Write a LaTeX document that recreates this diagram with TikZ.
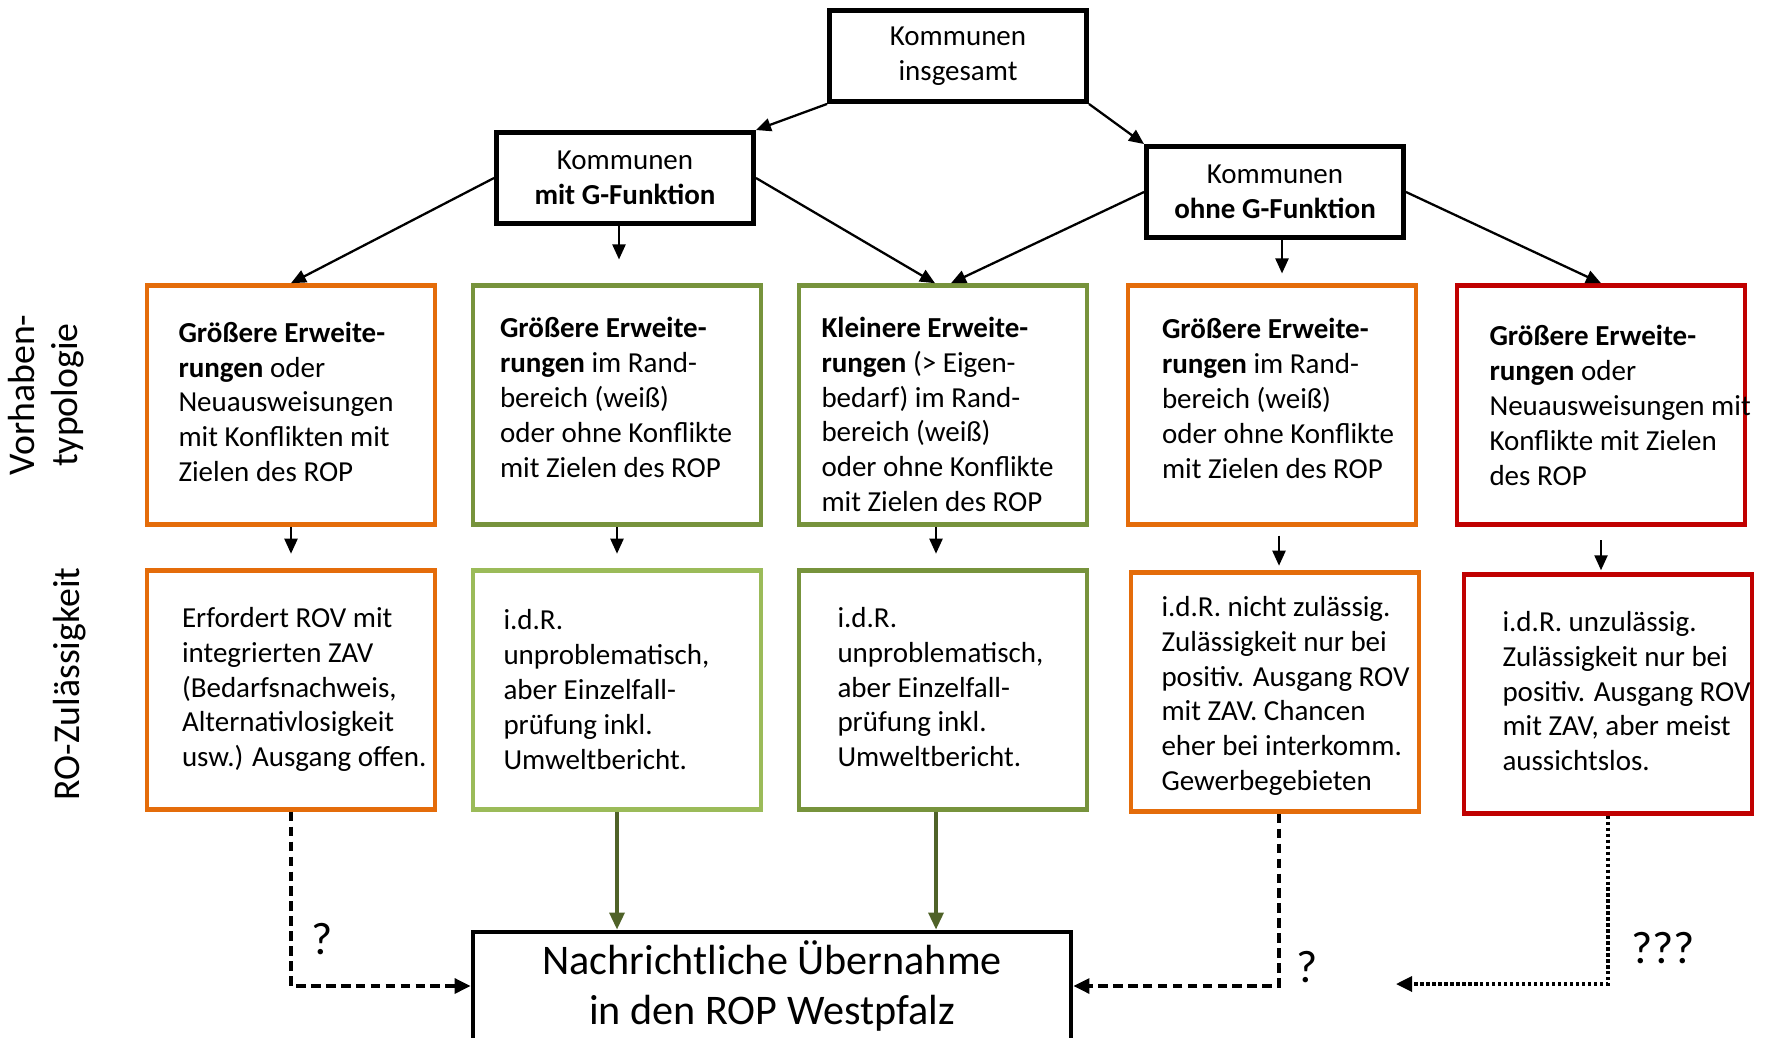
\documentclass[tikz,border=0pt]{standalone}
\usepackage{fontspec}
\setmainfont{Carlito}
\usepackage{tikz}
\usetikzlibrary{shapes, arrows.meta, positioning, calc}
\definecolor{boxorange}{HTML}{E46C0A}
\definecolor{boxgreen}{HTML}{77933C}
\definecolor{lightgreen}{HTML}{9BBB59}
\definecolor{boxred}{HTML}{C00000}
\definecolor{arrowgreen}{HTML}{4F6228}
\newcommand{\zeilen}[3][0cm]{\raisebox{#1}[\height][\depth]{\makebox[#2][l]{\begin{tabular}{@{}l@{}}#3\end{tabular}}}}
\tikzstyle{kommune} = [rectangle, minimum width=5.14cm, minimum height=1.82cm, align=center, draw=black, line width=2.8pt, font=\fontsize{16.5}{19.9}\selectfont]
\tikzstyle{typ} = [rectangle, minimum width=5.76cm, minimum height=4.78cm, line width=2.6pt, inner sep=0pt, font=\fontsize{16.5}{19.9}\selectfont]
\tikzstyle{uebernahme} = [rectangle, minimum width=11.96cm, minimum height=2.16cm, align=center, draw=black, line width=2.8pt, font=\fontsize{24}{28.5}\selectfont]
\tikzstyle{seite} = [rotate=90, align=center, font=\fontsize{21.5}{24.5}\selectfont]
\tikzstyle{frage} = [font=\fontsize{26}{30}\selectfont]
\tikzstyle{arr} = [line width=1.3pt, -{Triangle[length=0.3cm, width=0.26cm]}]
\tikzstyle{vielleicht} = [line width=1.9pt, dash pattern=on 5.5pt off 3pt, -{Triangle[length=0.32cm, width=0.3cm]}]
\tikzstyle{kaum} = [line width=1.9pt, dash pattern=on 1.9pt off 1.5pt, -{Triangle[length=0.32cm, width=0.3cm]}]
\tikzstyle{greenarr} = [line width=1.9pt, draw=arrowgreen, -{Triangle[length=0.34cm, width=0.3cm]}, arrowgreen]

\begin{document}
\begin{tikzpicture}[node distance=5.7cm]
\useasboundingbox (0,0) rectangle (35.4,20.74);
% Vorhabentypologie
\node (a2) [typ, draw=boxorange] at (5.82,12.64) {\zeilen{4.50cm}{\textbf{Größere Erweite-}\\\textbf{rungen} oder\\Neuausweisungen\\mit Konflikten mit\\Zielen des ROP}};
\node (b2) [typ, draw=boxgreen, right of=a2, xshift=0.82cm] {\zeilen[0.09cm]{4.68cm}{\textbf{Größere Erweite-}\\\textbf{rungen} im Rand-\\bereich (weiß)\\oder ohne Konflikte\\mit Zielen des ROP}};
\node (c2) [typ, draw=boxgreen, right of=b2, xshift=0.82cm] {\zeilen[-0.25cm]{4.86cm}{\textbf{Kleinere Erweite-}\\\textbf{rungen} (> Eigen-\\bedarf) im Rand-\\bereich (weiß)\\oder ohne Konflikte\\mit Zielen des ROP}};
\node (d2) [typ, draw=boxorange, right of=c2, xshift=0.88cm] {\zeilen[0.07cm]{4.40cm}{\textbf{Größere Erweite-}\\\textbf{rungen} im Rand-\\bereich (weiß)\\oder ohne Konflikte\\mit Zielen des ROP}};
\node (e2) [typ, draw=boxred, right of=d2, xshift=0.88cm] {\zeilen[-0.07cm]{4.46cm}{\textbf{Größere Erweite-}\\\textbf{rungen} oder\\Neuausweisungen mit\\Konflikte mit Zielen\\des ROP}};
% RO-Zulaessigkeit
\node (a3) [typ, draw=boxorange, below of=a2] {\zeilen{4.36cm}{Erfordert ROV mit\\integrierten ZAV\\(Bedarfsnachweis,\\Alternativlosigkeit\\usw.) Ausgang offen.}};
\node (b3) [typ, draw=lightgreen, below of=b2] {\zeilen[-0.05cm]{4.54cm}{i.d.R.\\unproblematisch,\\aber Einzelfall-\\prüfung inkl.\\Umweltbericht.}};
\node (c3) [typ, draw=boxgreen, below of=c2] {\zeilen{4.22cm}{i.d.R.\\unproblematisch,\\aber Einzelfall-\\prüfung inkl.\\Umweltbericht.}};
\node (d3) [typ, draw=boxorange, below of=d2, xshift=0.06cm, yshift=-0.04cm] {\zeilen[-0.09cm]{4.54cm}{i.d.R. nicht zulässig.\\Zulässigkeit nur bei\\positiv. Ausgang ROV\\mit ZAV. Chancen\\eher bei interkomm.\\Gewerbegebieten}};
\node (e3) [typ, draw=boxred, below of=e2, xshift=0.14cm, yshift=-0.08cm] {\zeilen{4.22cm}{i.d.R. unzulässig.\\Zulässigkeit nur bei\\positiv. Ausgang ROV\\mit ZAV, aber meist\\aussichtslos.}};
% Kommunen
\node (mitg) [kommune, above of=b2, xshift=0.16cm, yshift=-1.16cm] {Kommunen\\\textbf{mit G-Funktion}};
\node (ohneg) [kommune, above of=d2, xshift=0.06cm, yshift=-1.44cm] {Kommunen\\\textbf{ohne G-Funktion}};
\node (top) [kommune, above of=c2, xshift=0.30cm, yshift=1.28cm] {Kommunen\\insgesamt};
\node (rop) [uebernahme, below of=b3, xshift=3.10cm, yshift=-0.22cm] {Nachrichtliche Übernahme\\in den ROP Westpfalz};
\node (vt) [seite] at (0.92,12.84) {Vorhaben-\\typologie};
\node (roz) [seite] at (1.40,7.06) {RO-Zulässigkeit};
\node (q1) [frage] at (6.44,1.96) {?};
\node (q2) [frage] at (26.14,1.40) {?};
\node (q3) [frage] at (33.26,1.78) {???};
\coordinate (mitgend) at ($(mitg.south)+(-0.12,-0.67)$);
\coordinate (ohnegend) at ($(ohneg.south)+(0.14,-0.67)$);
\coordinate (eend) at (27.92,1.06);
\draw [arr] (top.south west) -- (mitg.north east);
\draw [arr] (top.south east) -- (ohneg.north west);
\draw [arr] (mitg.west) -- (a2.north);
\draw [arr] (mitgend |- mitg.south) -- (mitgend);
\draw [arr] (mitg.east) -- ($(c2.north)+(-0.16,0)$);
\draw [arr] (ohneg.west) -- ($(c2.north)+(0.16,0)$);
\draw [arr] (ohnegend |- ohneg.south) -- (ohnegend);
\draw [arr] (ohneg.east) -- (e2.north);
\draw [arr] (a2.south) -- ($(a3.north)+(0,0.29)$);
\draw [arr] (b2.south) -- ($(b3.north)+(0,0.29)$);
\draw [arr] ($(c2.south)+(-0.14,0)$) -- ($(c3.north)+(-0.14,0.29)$);
\draw [arr] ($(d3.north)+(0.08,0.69)$) -- ($(d3.north)+(0.08,0.09)$);
\draw [arr] ($(e2.south)+(0,-0.27)$) -- ($(e2.south)+(0,-0.87)$);
\draw [greenarr] (b3.south) -- (b3.south |- rop.north);
\draw [greenarr] ($(c3.south)+(-0.14,0)$) -- ($(c3.south |- rop.north)+(-0.14,0)$);
\draw [vielleicht] (a3.south) |- (rop.west);
\draw [vielleicht] ($(d3.south)+(0.08,0)$) |- (rop.east);
\draw [kaum] (e3.south) |- (eend);
\end{tikzpicture}
\end{document}
